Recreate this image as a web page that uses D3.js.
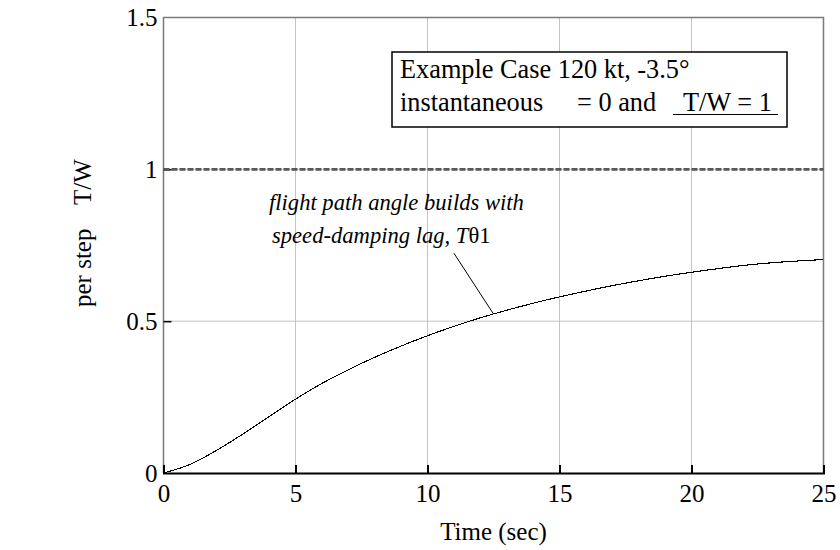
<!DOCTYPE html>
<html>
<head>
<meta charset="utf-8">
<script src="https://cdn.jsdelivr.net/npm/d3@7"></script>
<style>
  html, body { margin: 0; padding: 0; background: #fff; }
  svg { display: block; }
  text { font-family: "Liberation Serif", "Times New Roman", serif; fill: #000; }
</style>
</head>
<body>
<svg id="chart" width="840" height="550"></svg>
<script>
// Time axis (sec) and flight path response per unit step in T/W
const timeSec = [0, 1, 2, 3, 4, 5, 6, 7, 8, 9, 10, 11, 12, 13, 14, 15, 16, 17, 18, 19, 20, 21, 22, 23, 24, 25];
const response = [0, 0.028, 0.074, 0.128, 0.186, 0.243, 0.295, 0.34, 0.381, 0.418, 0.452, 0.483, 0.511, 0.536, 0.559, 0.58, 0.599, 0.617, 0.633, 0.648, 0.661, 0.673, 0.684, 0.692, 0.698, 0.703];
// Commanded step in T/W
const stepTime = [0, 25];
const stepValue = [1, 1];

const xTicks = [0, 5, 10, 15, 20, 25];
const yTicks = [0, 0.5, 1, 1.5];
const yTickLabels = ["0", "0.5", "1", "1.5"];

// annotation leader: from text (time, value) to the curve at time
const leaderFrom = [11.0, 0.724];
const leaderAt = 12.5;

const svg = d3.select("#chart");
const plotLeft = 163.5, plotRight = 823.5, plotTop = 17.5, plotBottom = 473;

const x = d3.scaleLinear().domain([0, 25]).range([plotLeft, plotRight]);
const y = d3.scaleLinear().domain([0, 1.5]).range([plotBottom, plotTop]);

// grid
const grid = svg.append("g").attr("stroke", "#c4c4c4").attr("stroke-width", 1);
xTicks.slice(1, -1).forEach(t => {
  grid.append("line").attr("x1", x(t)).attr("x2", x(t)).attr("y1", y(0)).attr("y2", y(1.5));
});
yTicks.slice(1, -1).forEach(v => {
  grid.append("line").attr("x1", x(0)).attr("x2", x(25)).attr("y1", y(v)).attr("y2", y(v));
});

// frame: gray top/left/right, black bottom axis
svg.append("path")
  .attr("d", `M${x(0)},${y(0)}V${y(1.5)}H${x(25)}V${y(0)}`)
  .attr("fill", "none").attr("stroke", "#7a7a7a").attr("stroke-width", 1.5);

const xAxis = d3.axisBottom(x).tickValues(xTicks).tickSize(-8).tickPadding(11).tickFormat(d3.format("d"));
const gx = svg.append("g").attr("transform", `translate(0,${y(0)})`).call(xAxis);
gx.select(".domain").attr("stroke", "#000").attr("stroke-width", 2);
gx.selectAll(".tick line").attr("stroke", "#000").attr("stroke-width", 2);
gx.selectAll(".tick text").attr("font-size", 25).attr("font-family", "Liberation Serif").attr("dy", "0.71em");

const yAxis = d3.axisLeft(y).tickValues(yTicks).tickSize(-8).tickPadding(6)
  .tickFormat((d, i) => yTickLabels[i]);
const gy = svg.append("g").attr("transform", `translate(${x(0)},0)`).call(yAxis);
gy.select(".domain").remove();
gy.selectAll(".tick line").attr("stroke", "#000").attr("stroke-width", 1.5)
  .filter(d => d === 0 || d === 1.5).remove();
gy.selectAll(".tick text").attr("font-size", 25).attr("font-family", "Liberation Serif");

// step input at T/W = 1
const stepLine = d3.line().x((d, i) => x(stepTime[i])).y((d, i) => y(stepValue[i]));
svg.append("path")
  .attr("d", stepLine(stepTime))
  .attr("fill", "none").attr("stroke", "#585858").attr("stroke-width", 2.6)
  .attr("stroke-dasharray", "6,2");

// response curve
const respLine = d3.line().x((d, i) => x(timeSec[i])).y((d, i) => y(response[i])).curve(d3.curveMonotoneX);
svg.append("path")
  .attr("d", respLine(timeSec))
  .attr("fill", "none").attr("stroke", "#000").attr("stroke-width", 1.1)
  .attr("shape-rendering", "crispEdges");

// axis titles
svg.append("text").attr("x", (plotLeft + plotRight) / 2).attr("y", 540)
  .attr("text-anchor", "middle").attr("font-size", 25).text("Time (sec)");
svg.append("text").attr("transform", "translate(91,307) rotate(-90)")
  .attr("font-size", 25).text("per step");
svg.append("text").attr("transform", "translate(91,205) rotate(-90)")
  .attr("font-size", 25).text("T/W");

// legend box
svg.append("rect").attr("x", 392).attr("y", 52).attr("width", 395).attr("height", 75)
  .attr("fill", "#fff").attr("stroke", "#000").attr("stroke-width", 1.5);
svg.append("text").attr("x", 400).attr("y", 78).attr("font-size", 26.3).text("Example Case 120 kt, -3.5°");
svg.append("text").attr("x", 400).attr("y", 111).attr("font-size", 26.3).text("instantaneous");
svg.append("text").attr("x", 577).attr("y", 111).attr("font-size", 26.3).text("= 0 and");
svg.append("text").attr("x", 683).attr("y", 111).attr("font-size", 26.3).text("T/W = 1");
svg.append("line").attr("x1", 673).attr("x2", 778).attr("y1", 114.5).attr("y2", 114.5)
  .attr("stroke", "#000").attr("stroke-width", 1.2);

// annotation
svg.append("text").attr("x", 269).attr("y", 210).attr("font-size", 22.6).attr("font-style", "italic")
  .text("flight path angle builds with");
const ann2 = svg.append("text").attr("x", 272).attr("y", 243).attr("font-size", 22.6);
ann2.append("tspan").attr("font-style", "italic").text("speed-damping lag, T");
ann2.append("tspan").text("θ1");

const vAt = d3.scaleLinear().domain(timeSec).range(response)(leaderAt);
svg.append("line")
  .attr("x1", x(leaderFrom[0])).attr("y1", y(leaderFrom[1]))
  .attr("x2", x(leaderAt)).attr("y2", y(vAt))
  .attr("stroke", "#000").attr("stroke-width", 1);
</script>
</body>
</html>
